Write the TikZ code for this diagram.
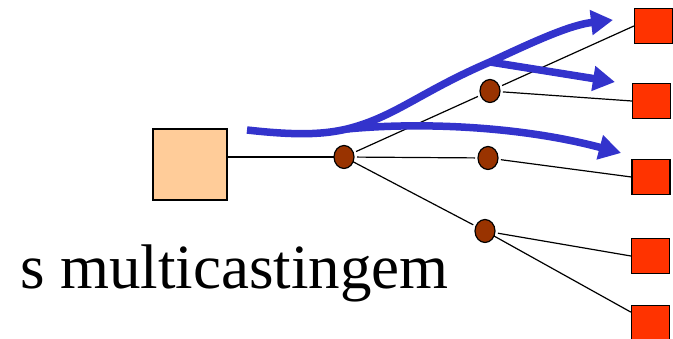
\documentclass[tikz,border=0pt]{standalone}
\usepackage{fontspec}
\setmainfont{Liberation Serif}
\usepackage{tikz}
\usetikzlibrary{arrows.meta,shapes.geometric,calc}
\definecolor{peach}{RGB}{255,204,153}
\definecolor{destred}{RGB}{255,51,0}
\definecolor{routerbrown}{RGB}{153,51,0}
\definecolor{flowblue}{RGB}{51,51,204}

\begin{document}
\begin{tikzpicture}[x=1pt,y=-1pt,
  host/.style={draw,line width=1.2pt,fill=peach,minimum width=74pt,minimum height=71pt,inner sep=0pt},
  router/.style={ellipse,draw,line width=1.2pt,fill=routerbrown,minimum width=20pt,minimum height=23pt,inner sep=0pt,outer sep=3pt},
  receiver/.style={draw,line width=1.2pt,fill=destred,minimum width=38pt,minimum height=35pt,inner sep=0pt},
  link/.style={line width=1.2pt},
  flow/.style={line width=7.5pt,draw=flowblue,-{Triangle[length=22pt,width=24pt]}}]
\useasboundingbox (0,0) rectangle (673,339);

\node[host] (src) at (190,164.5) {};
\node[router] (r1) at (344,157) {};
\node[router] (r2) at (490,91) {};
\node[router] (r3) at (488,158) {};
\node[router] (r4) at (485,231) {};
\node[receiver] (d1) at (653.5,26) {};
\node[receiver] (d2) at (651.5,101) {};
\node[receiver] (d3) at (651,177) {};
\node[receiver] (d4) at (650.5,256) {};
\node[receiver] (d5) at (650.5,323) {};

\draw[link,shorten >=-3pt] (src.east |- r1) -- (r1);
\draw[link] (r1) -- (r2);
\draw[link] (r1) -- (r3);
\draw[link,shorten <=-3pt] (r1) -- (r4);
\draw[link] (r2) -- (d1.west);
\draw[link] (r2) -- (d2.west);
\draw[link] (r3) -- (d3.west);
\draw[link] (r4) -- (d4.west);
\draw[link,shorten <=-3pt] (r4) -- (d5);

\coordinate (start) at (247,130);
\coordinate (fork1) at (347,129);
\coordinate (fork2) at (490,62);
\coordinate (tip1) at (613,20);
\coordinate (tip2) at (615,82);
\coordinate (tip3) at (621,153);

\draw[flow] (start) .. controls (300,136) and (325,134) .. (fork1)
  .. controls (395,117) and (420,92) .. (fork2)
  .. controls (535,41) and (570,25) .. (tip1);
\draw[flow] (fork2) -- (tip2);
\draw[flow] (fork1) .. controls (420,122) and (520,126) .. (tip3);

\node[anchor=base west,inner sep=0pt] (caption) at (20,289) {\fontsize{63}{70}\selectfont s multicastingem};
\end{tikzpicture}
\end{document}
